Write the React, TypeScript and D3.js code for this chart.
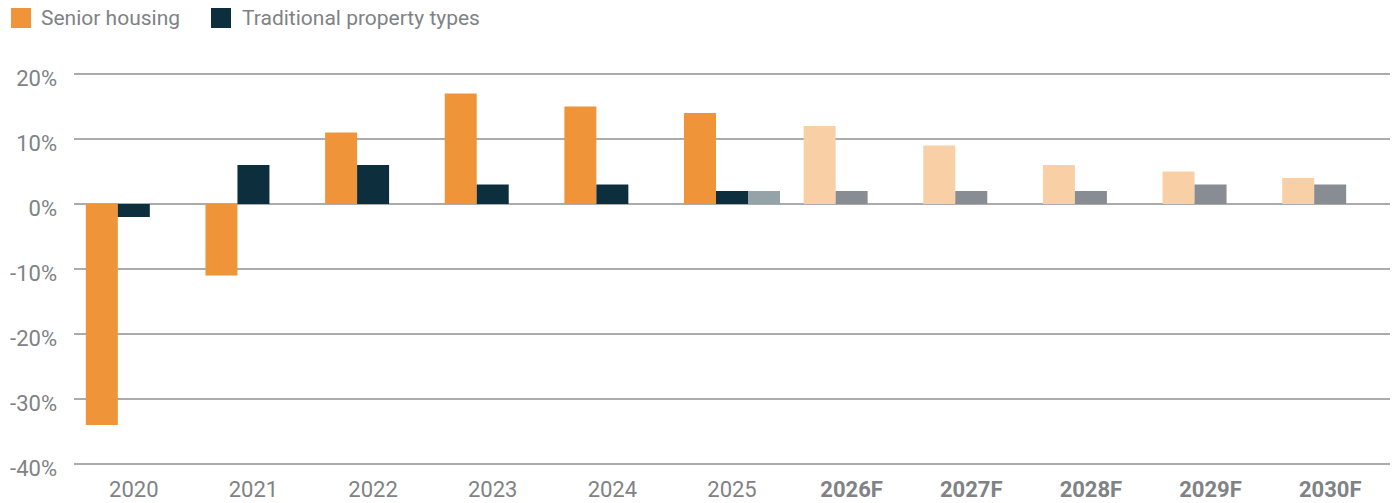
import React from 'react';
import * as d3 from 'd3';

const width = 1393;
const height = 503;
const margin = { top: 74, right: 3, bottom: 39, left: 74 };

const years = ['2020', '2021', '2022', '2023', '2024', '2025', '2026F', '2027F', '2028F', '2029F', '2030F'];
const forecast = [false, false, false, false, false, false, true, true, true, true, true];
const seniorHousing = [-34, -11, 11, 17, 15, 14, 12, 9, 6, 5, 4];
const traditional = [-2, 6, 6, 3, 3, 2, 2, 2, 2, 3, 3];
// the 2025 estimate shown as a third bar
const traditionalEstimate = [null, null, null, null, null, 2, null, null, null, null, null];
const yTicks = [20, 10, 0, -10, -20, -30, -40];

const orange = '#f0943a';
const navy = '#0d2f3d';
const lightOrange = '#f9cfa6';
const grey = '#878d93';
const blueGrey = '#93a3a7';
const gridColor = '#8f8f93';
const textColor = '#808285';
const font = 'Roboto, "Noto Sans", sans-serif';

export default function App() {
	const x = d3.scaleBand().domain(years).range([margin.left, width - margin.right]).padding(0);
	const y = d3.scaleLinear().domain([-40, 20]).range([height - margin.bottom - 0, margin.top]);
	const slot = d3
		.scaleBand()
		.domain(['senior', 'trad', 'est'])
		.range([0, x.bandwidth()])
		.paddingInner(0)
		.paddingOuter(0.37);

	const bars = [];
	years.forEach((yr, i) => {
		const x0 = x(yr);
		const entries = [
			{ key: 'senior', v: seniorHousing[i], c: forecast[i] ? lightOrange : orange },
			{ key: 'trad', v: traditional[i], c: forecast[i] ? grey : navy },
			{ key: 'est', v: traditionalEstimate[i], c: blueGrey }
		];
		entries.forEach((e) => {
			if (e.v == null) return;
			const top = y(Math.max(0, e.v));
			const bottom = y(Math.min(0, e.v));
			bars.push(
				<rect key={yr + e.key} x={x0 + slot(e.key)} y={top} width={slot.bandwidth()} height={bottom - top} fill={e.c} />
			);
		});
	});

	return (
		<svg
			width={width}
			height={height}
			style={{ position: 'absolute', left: 0, top: 0, fontFamily: font }}
		>
			{/* legend */}
			<g>
				<rect x={11} y={8} width={20} height={20} fill={orange} />
				<text x={41} y={18} dy="0.35em" fontSize={21} fill={textColor}>Senior housing</text>
				<rect x={211} y={8} width={20} height={20} fill={navy} />
				<text x={242} y={18} dy="0.35em" fontSize={21} fill={textColor}>Traditional property types</text>
			</g>

			{/* grid + y labels */}
			<g>
				{yTicks.map((t) => (
					<g key={t}>
						<line x1={margin.left} x2={width - margin.right} y1={y(t)} y2={y(t)} stroke={gridColor} strokeWidth={1.5} />
						<text x={57} y={y(t) + 4} dy="0.35em" textAnchor="end" fontSize={22} fill={textColor}>
							{t + '%'}
						</text>
					</g>
				))}
			</g>

			<g>{bars}</g>

			{/* x labels */}
			<g>
				{years.map((yr, i) => (
					<text
						key={yr}
						x={x(yr) + x.bandwidth() / 2}
						y={489}
						dy="0.35em"
						textAnchor="middle"
						fontSize={22}
						fontWeight={forecast[i] ? 'bold' : 'normal'}
						fill={textColor}
					>
						{yr}
					</text>
				))}
			</g>
		</svg>
	);
}
